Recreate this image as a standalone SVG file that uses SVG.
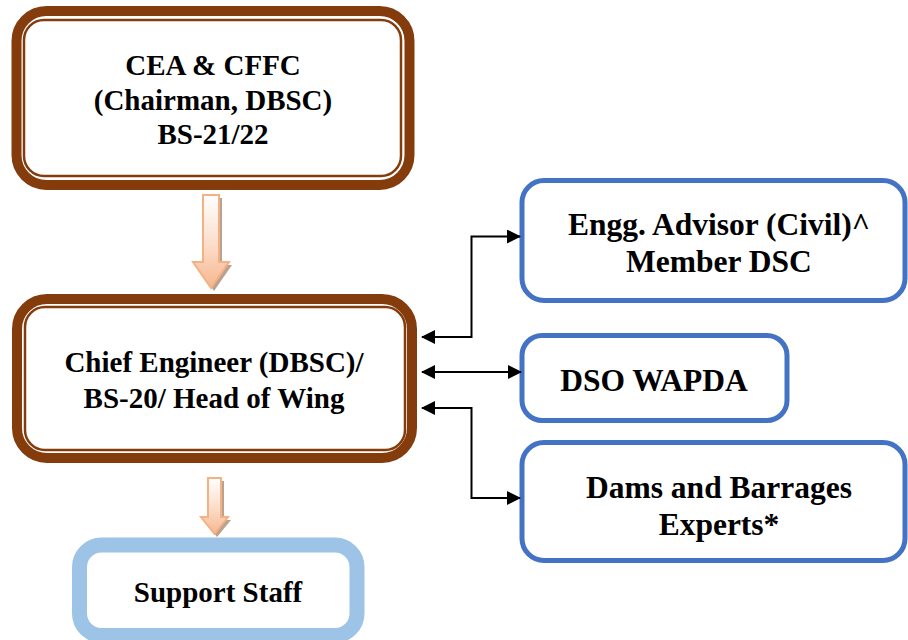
<svg xmlns="http://www.w3.org/2000/svg" width="908" height="640" viewBox="0 0 908 640">
  <defs>
    <style>
      text { font-family: 'Liberation Serif', 'Times New Roman', 'DejaVu Serif', serif; font-weight: 700; fill: #000; text-anchor: middle; }
      .l { font-size: 29px; }
      .r { font-size: 31.5px; }
      .brown-out { fill: #fff; stroke: #843C0C; stroke-width: 10; }
      .brown-in { fill: none; stroke: #843C0C; stroke-width: 2.5; }
      .blue { fill: #fff; stroke: #4472C4; stroke-width: 5; }
      .lblue { fill: #fff; stroke: #9DC3E6; stroke-width: 15; }
      .shadow { fill: #A98A74; opacity: 0.8; }
      .block { fill: url(#orangeFill); stroke: #F4B183; stroke-width: 2; }
      .wire { fill: none; stroke: #000; stroke-width: 2; }
    </style>
    <linearGradient id="orangeFill" x1="0" y1="0" x2="0" y2="1">
      <stop offset="0" stop-color="#FFFFFF"/>
      <stop offset="0.55" stop-color="#FBDCC8"/>
      <stop offset="1" stop-color="#F7B68F"/>
    </linearGradient>
    <marker id="head" viewBox="0 0 14 14" refX="13" refY="7" markerWidth="14" markerHeight="14" markerUnits="userSpaceOnUse" orient="auto-start-reverse">
      <path d="M0,0 L14,7 L0,14 Z" fill="#000"/>
    </marker>
  </defs>

  <!-- Chairman -->
  <g id="node-cea">
    <rect class="brown-out" x="16.5" y="11" width="393" height="174" rx="30"/>
    <rect class="brown-in" x="24" y="20" width="377" height="156" rx="20"/>
    <text class="l" x="213" y="75" font-family="Liberation Serif, serif">CEA &amp; CFFC</text>
    <text class="l" x="213" y="110" font-family="Liberation Serif, serif">(Chairman, DBSC)</text>
    <text class="l" x="213" y="144" font-family="Liberation Serif, serif">BS-21/22</text>
  </g>

  <!-- Chief Engineer -->
  <g id="node-chief">
    <rect class="brown-out" x="17" y="299" width="395" height="159" rx="30"/>
    <rect class="brown-in" x="25" y="307" width="380" height="143" rx="20"/>
    <text class="l" x="214" y="372" font-family="Liberation Serif, serif">Chief Engineer (DBSC)/</text>
    <text class="l" x="214" y="408" font-family="Liberation Serif, serif">BS-20/ Head of Wing</text>
  </g>

  <!-- Advisor -->
  <g id="node-advisor">
    <rect class="blue" x="522" y="180.5" width="383" height="120" rx="22"/>
    <text class="r" x="719" y="235" font-family="Liberation Serif, serif">Engg. Advisor (Civil)^</text>
    <text class="r" x="719" y="272" font-family="Liberation Serif, serif">Member DSC</text>
  </g>

  <!-- DSO -->
  <g id="node-dso">
    <rect class="blue" x="522" y="335.5" width="265" height="85" rx="20"/>
    <text class="r" x="654" y="391" font-family="Liberation Serif, serif">DSO WAPDA</text>
  </g>

  <!-- Experts -->
  <g id="node-experts">
    <rect class="blue" x="522" y="442.5" width="383" height="118" rx="22"/>
    <text class="r" x="719" y="498" font-family="Liberation Serif, serif">Dams and Barrages</text>
    <text class="r" x="719" y="535" font-family="Liberation Serif, serif">Experts*</text>
  </g>

  <!-- Support staff -->
  <g id="node-support">
    <rect class="lblue" x="79.5" y="545" width="277.5" height="90.5" rx="22"/>
    <text class="l" x="218" y="602" font-family="Liberation Serif, serif">Support Staff</text>
  </g>

  <g id="connectors">
    <!-- block arrow: Chairman to Chief Engineer -->
    <polygon class="shadow" points="206,198 222,198 222,265 232,265 214,291 196,265 206,265"/>
    <polygon class="block" points="203,195 219,195 219,262 229,262 211,288 193,262 203,262"/>
    <!-- block arrow: Chief Engineer to Support Staff -->
    <polygon class="shadow" points="211,481 224,481 224,520 231,520 217,537 204,520 211,520"/>
    <polygon class="block" points="208,478 221,478 221,517 228,517 214.5,534 201,517 208,517"/>

    <!-- two-way links -->
    <path class="wire" d="M422,337 H471.5 V236.5 H520" marker-start="url(#head)" marker-end="url(#head)"/>
    <path class="wire" d="M422,372 H521" marker-start="url(#head)" marker-end="url(#head)"/>
    <path class="wire" d="M422,408 H471.5 V498 H520" marker-start="url(#head)" marker-end="url(#head)"/>
  </g>
</svg>
